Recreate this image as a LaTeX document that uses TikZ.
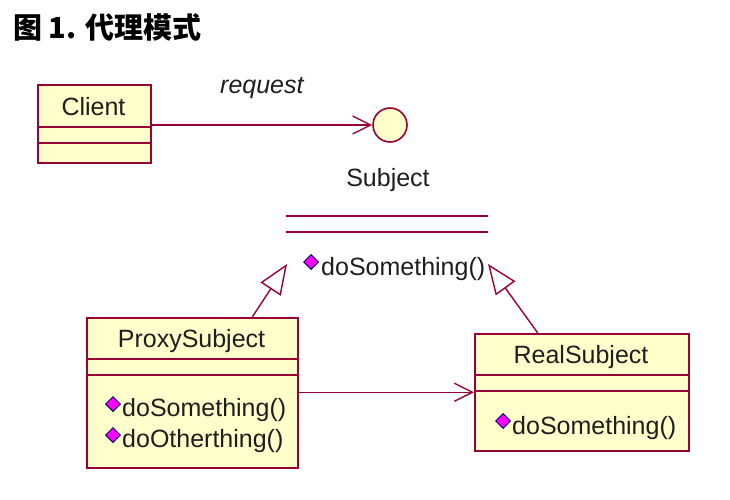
\documentclass[tikz,border=0pt]{standalone}
\usepackage{fontspec}
\setmainfont{Liberation Sans}
\newfontfamily\cjk{Noto Sans CJK SC}
\usetikzlibrary{arrows.meta,shapes.geometric}
\definecolor{umlline}{RGB}{153,0,51}
\definecolor{umlfill}{RGB}{255,255,204}
\definecolor{opfill}{RGB}{255,0,255}
\definecolor{txtcol}{RGB}{30,30,30}

\begin{document}
\begin{tikzpicture}[x=1pt,y=-1pt,
  box/.style={draw=umlline,fill=umlfill,line width=1.6pt,inner sep=0pt,anchor=north west},
  sep/.style={draw=umlline,line width=1.6pt},
  txt/.style={font=\fontsize{25}{28}\selectfont,text=txtcol,inner sep=0pt},
  lbl/.style={txt,font=\fontsize{25}{28}\selectfont\itshape},
  opmark/.style={diamond,draw=black!60!blue,fill=opfill,line width=1pt,minimum size=15pt,inner sep=0pt},
  assoc/.style={draw=umlline,line width=1.4pt,-{Straight Barb[length=18pt,width=18pt]}},
  gen/.style={draw=umlline,line width=1.4pt,-{Triangle[fill=white,length=30pt,width=24pt]}}]
\useasboundingbox (0,0) rectangle (730,500);
\node[anchor=west,inner sep=0pt,font=\cjk\bfseries\fontsize{29}{32}\selectfont] (title) at (13,27) {图 1. 代理模式};
% client
\node[box,minimum width=113pt,minimum height=78pt] (client) at (37,84) {};
\node[txt] (clientname) at (93.5,107) {Client};
\draw[sep] (37,127) -- (150,127);
\draw[sep] (37,143) -- (150,143);
% subject interface
\node[circle,draw=umlline,fill=umlfill,line width=1.6pt,minimum size=34pt,inner sep=0pt] (subject) at (390,125) {};
\node[txt] (subjname) at (388,180) {Subject};
\draw[sep] (286,216) -- (488,216);
\draw[sep] (286,232) -- (488,232);
\node[opmark] (sm1) at (311,262) {};
\node[txt,anchor=west] (subjop) at (321,269) {doSomething()};
\coordinate (genL) at (287,264);
\coordinate (genR) at (488,264);
% proxy
\node[box,minimum width=211pt,minimum height=150pt] (proxy) at (86,317) {};
\node[txt] (proxyname) at (191.5,341) {ProxySubject};
\draw[sep] (86,359) -- (297,359);
\draw[sep] (86,375) -- (297,375);
\node[opmark] (pm1) at (113,404) {};
\node[txt,anchor=west] (proxyop1) at (122,410) {doSomething()};
\node[opmark] (pm2) at (113,435) {};
\node[txt,anchor=west] (proxyop2) at (122,441) {doOtherthing()};
% real
\node[box,minimum width=214pt,minimum height=117pt] (real) at (474,333) {};
\node[txt] (realname) at (581,357) {RealSubject};
\draw[sep] (474,375) -- (688,375);
\draw[sep] (474,391) -- (688,391);
\node[opmark] (rm1) at (503,421) {};
\node[txt,anchor=west] (realop) at (512,428) {doSomething()};
% connectors
\draw[assoc] (client.east |- subject.west) -- node[lbl,yshift=37pt] (req) {request} (subject.west);
\draw[assoc] (proxy.east |- real.west) -- (real.west);
\draw[gen] ([xshift=60pt]proxy.north) -- (genL);
\draw[gen] ([xshift=-44pt]real.north) -- (genR);
\end{tikzpicture}
\end{document}
